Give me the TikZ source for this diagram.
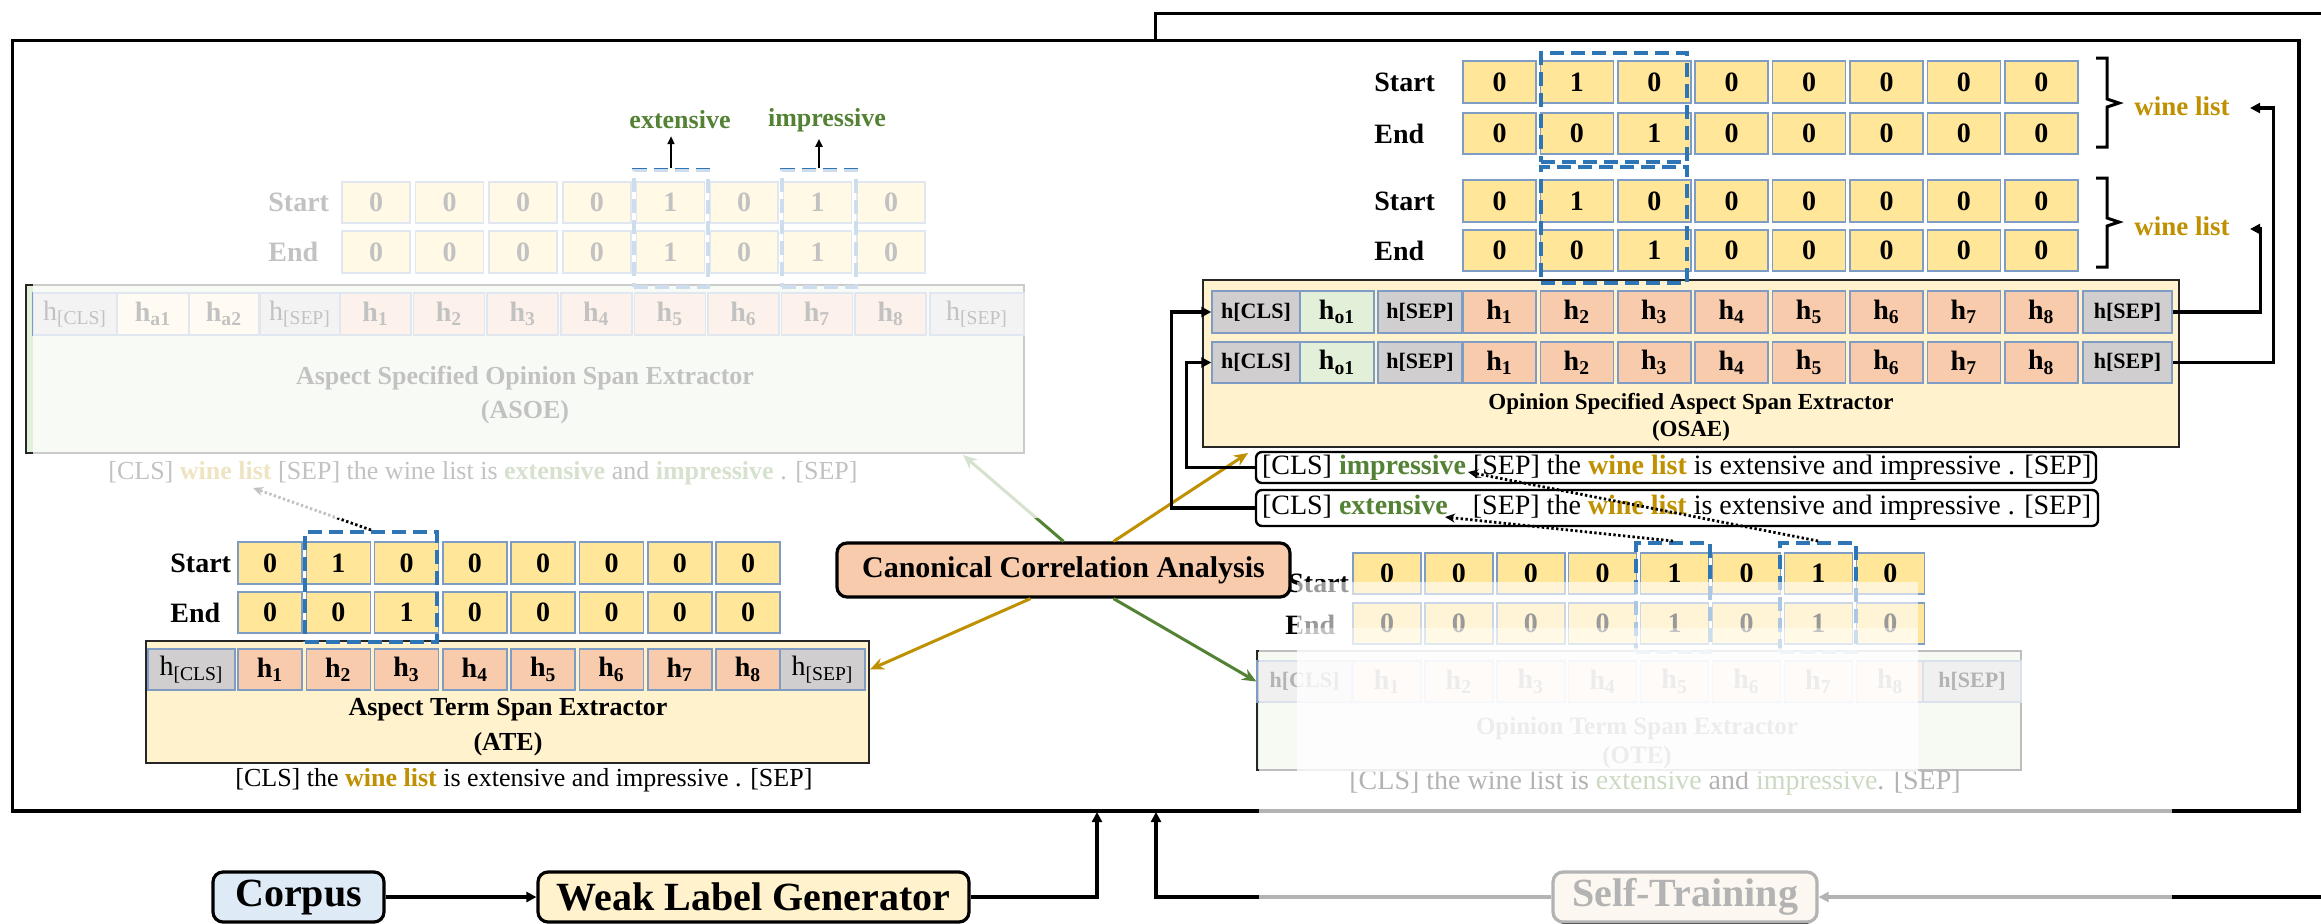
\documentclass[tikz,border=0pt]{standalone}
\usepackage{fontspec}
\setmainfont{Liberation Serif}
\usetikzlibrary{arrows.meta,calc}

\definecolor{valyellow}{HTML}{FFE699}
\definecolor{cellline}{HTML}{7F9CC4}
\definecolor{hsalmon}{HTML}{F8CBAD}
\definecolor{hgray}{HTML}{D0CECE}
\definecolor{paleyellow}{HTML}{FFF2CC}
\definecolor{palegreen}{HTML}{E2F0D9}
\definecolor{paleblue}{HTML}{DEEBF7}
\definecolor{palepeach}{HTML}{FBE5D6}
\definecolor{spanblue}{HTML}{2E75B6}
\definecolor{goldtxt}{HTML}{BF9000}
\definecolor{greentxt}{HTML}{548235}

\newcommand\fsz[1]{\fontsize{#1}{#1}\selectfont}
\newcommand\wlist[1]{\textcolor{goldtxt}{\textbf{#1}}}
\newcommand\grw[1]{\textcolor{greentxt}{\textbf{#1}}}
\newcommand\hsub[1]{\textbf{h\textsubscript{#1}}}
% box from (x0,y0) to (x1,y1), in pixel units
\newcommand\pxbox[7]{\node[#2, minimum width={((#5)-(#3))*0.5pt}, minimum height={((#6)-(#4))*0.5pt}] (#1) at ({((#3)+(#5))/2},{((#4)+(#6))/2}) {#7};}

\tikzset{
  cell/.style={draw=cellline, line width=0.75pt, inner sep=0pt},
  valcell/.style={cell, fill=valyellow, font=\bfseries\fsz{14}},
  hcell/.style={cell, fill=hsalmon, font=\bfseries\fsz{14}},
  sepcell/.style={cell, fill=hgray, font=\fsz{14}},
  tagcell/.style={cell, fill=hgray, font=\bfseries\fsz{11}},
  ocell/.style={cell, fill=palegreen, font=\bfseries\fsz{14}},
  acell/.style={cell, fill=paleyellow, font=\bfseries\fsz{14}},
  module/.style={draw=black!85, line width=1pt, inner sep=0pt},
  rowlabel/.style={font=\bfseries\fsz{14}, anchor=west, inner sep=0pt},
  title/.style={align=center, inner sep=0pt},
  sentence/.style={font=\fsz{13}, anchor=west, inner sep=0pt},
  spanbox/.style={draw=spanblue, line width=2pt, dash pattern=on 7pt off 3.5pt, inner sep=0pt},
  link/.style={line width=1.6pt, -{Triangle[length=5pt,width=5pt]}},
  thinlink/.style={line width=1.1pt, -{Triangle[length=4pt,width=3.5pt]}},
  corr/.style={line width=1.5pt, -{Stealth[length=7pt,width=6pt]}},
  pointer/.style={line width=1.4pt, dash pattern=on 1.2pt off 1.2pt, -{Stealth[length=5pt,width=4.5pt]}},
  stage/.style={draw=black, line width=1.6pt, rounded corners=5pt, inner sep=0pt, font=\bfseries\fsz{20}},
  inputbox/.style={draw=black, line width=1.2pt, rounded corners=3pt, inner sep=0pt, font=\fsz{14}},
  bracket/.style={line width=1.5pt},
}

\begin{document}
\begin{tikzpicture}[x=0.5pt,y=-0.5pt]
\useasboundingbox (0,0) rectangle (2321,923);

% frames
\draw[line width=1.5pt] (1155,60) -- (1155,13) -- (2340,13);
\pxbox{frame}{draw=black, line width=1.75pt, fill=white}{12.6}{40.7}{2299}{811}{}

% ===================== ASOE =====================
\pxbox{asoe}{module, fill=palegreen}{26}{285}{1024}{453}{}
\node[title, font=\bfseries\fontsize{13}{17}\selectfont] (asoeT) at (525,395) {Aspect Specified Opinion Span Extractor\\(ASOE)};
\foreach \v [count=\i] in {0,0,0,0,1,0,1,0}{
  \pxbox{asS\i}{valcell}{342+(\i-1)*73.6}{182}{410+(\i-1)*73.6}{223}{\v}
  \pxbox{asE\i}{valcell}{342+(\i-1)*73.6}{231}{410+(\i-1)*73.6}{273}{\v}
}
\node[rowlabel] (asLS) at (268,202.5) {Start};
\node[rowlabel] (asLE) at (268,252) {End};
\pxbox{asHC}{sepcell}{33}{293}{117}{335}{h\textsubscript{[CLS]}}
\pxbox{asA1}{acell}{117}{293}{189}{335}{\hsub{a1}}
\pxbox{asA2}{acell}{189}{293}{259}{335}{\hsub{a2}}
\pxbox{asHP}{sepcell}{260}{293}{340}{335}{h\textsubscript{[SEP]}}
\foreach \i in {1,...,8}{
  \pxbox{asH\i}{hcell}{340+(\i-1)*73.6}{293}{411+(\i-1)*73.6}{335}{\hsub{\i}}
}
\pxbox{asHS}{sepcell}{930}{293}{1024}{335}{h\textsubscript{[SEP]}}
\pxbox{asD5}{spanbox}{634}{170}{708}{287}{}
\pxbox{asD7}{spanbox}{782}{170}{856}{287}{}
\node[sentence] (asoeIn) at (108,473) {[CLS] \wlist{wine list} [SEP] the wine list is \grw{extensive} and \grw{impressive} . [SEP]};

% ===================== ATE =====================
\pxbox{ate}{module, fill=paleyellow}{146}{641}{869}{763}{}
\node[title, font=\bfseries\fontsize{13}{17.5}\selectfont] (ateT) at (508,727.5) {Aspect Term Span Extractor\\(ATE)};
\foreach \v [count=\i] in {0,1,0,0,0,0,0,0}{
  \pxbox{atS\i}{valcell}{238+(\i-1)*68.3}{542}{302+(\i-1)*68.3}{584}{\v}
}
\foreach \v [count=\i] in {0,0,1,0,0,0,0,0}{
  \pxbox{atE\i}{valcell}{238+(\i-1)*68.3}{592}{302+(\i-1)*68.3}{633}{\v}
}
\node[rowlabel] (atLS) at (170,563) {Start};
\node[rowlabel] (atLE) at (170,613) {End};
\pxbox{atHC}{sepcell}{148}{649}{235}{690}{h\textsubscript{[CLS]}}
\foreach \i in {1,...,8}{
  \pxbox{atH\i}{hcell}{238+(\i-1)*68.3}{649}{302+(\i-1)*68.3}{690}{\hsub{\i}}
}
\pxbox{atHS}{sepcell}{780}{649}{865}{690}{h\textsubscript{[SEP]}}
\pxbox{ateD}{spanbox}{305}{532}{437}{642}{}
\node[sentence] (ateIn) at (235,780) {[CLS] the \wlist{wine list} is extensive and impressive . [SEP]};

% ===================== Canonical Correlation Analysis links =====================
\pxbox{cca}{stage, fill=hsalmon, font=\bfseries\fsz{15}}{837}{543}{1290}{597}{Canonical Correlation Analysis}
\coordinate (asoeHit) at (963,455);
\coordinate (osaeHit) at (1248,453);
\draw[corr, greentxt] (cca.north) -- (asoeHit);
\draw[corr, goldtxt] ($(cca.north)+(50,0)$) -- (osaeHit);
\draw[corr, goldtxt] ($(cca.south)+(-33,0)$) -- (atHS.east -| ate.east);

% pointer from the ATE span to the aspect in the ASOE input
\coordinate (asoeWL) at (253,488);
\draw[pointer] (ateD.north) -- (asoeWL);

% faded ASOE region
\fill[white, opacity=0.76] (33,169) rectangle (1100,518);

\node[font=\bfseries\fsz{13}, text=greentxt] (extLbl) at (680,120) {extensive};
\node[font=\bfseries\fsz{13}, text=greentxt] (impLbl) at (827,120) {impressive};
\draw[thinlink] (asD5.north) -- (asD5.north |- extLbl.south);
\draw[thinlink] (asD7.north) -- (asD7.north |- impLbl.south);

% ===================== OSAE =====================
\pxbox{osae}{module, fill=paleyellow}{1203}{280}{2179}{447}{}
\node[title, font=\bfseries\fontsize{11.5}{13.5}\selectfont] (osaeT) at (1691,417.5) {Opinion Specified Aspect Span Extractor\\(OSAE)};
\foreach \ya/\yb/\nm in {61/103/oS1,180/222/oS2}{
  \foreach \v [count=\i] in {0,1,0,0,0,0,0,0}{
    \pxbox{\nm\i}{valcell}{1463+(\i-1)*77.4}{\ya}{1536+(\i-1)*77.4}{\yb}{\v}
  }
}
\foreach \ya/\yb/\nm in {113/154/oE1,230/271/oE2}{
  \foreach \v [count=\i] in {0,0,1,0,0,0,0,0}{
    \pxbox{\nm\i}{valcell}{1463+(\i-1)*77.4}{\ya}{1536+(\i-1)*77.4}{\yb}{\v}
  }
}
\node[rowlabel] (oLS1) at (1374,82) {Start};
\node[rowlabel] (oLE1) at (1374,133.5) {End};
\node[rowlabel] (oLS2) at (1374,201) {Start};
\node[rowlabel] (oLE2) at (1374,250.5) {End};
\pxbox{oD1}{spanbox}{1541}{53}{1687}{162}{}
\pxbox{oD2}{spanbox}{1541}{167}{1687}{283}{}
\foreach \ya/\yb/\rw in {291/333/1,342/383/2}{
  \pxbox{oR\rw C}{tagcell}{1212}{\ya}{1300}{\yb}{h[CLS]}
  \pxbox{oR\rw O}{ocell}{1300}{\ya}{1374}{\yb}{\hsub{o1}}
  \pxbox{oR\rw P}{tagcell}{1378}{\ya}{1462}{\yb}{h[SEP]}
  \foreach \i in {1,...,8}{
    \pxbox{oR\rw H\i}{hcell}{1463+(\i-1)*77.4}{\ya}{1536+(\i-1)*77.4}{\yb}{\hsub{\i}}
  }
  \pxbox{oR\rw S}{tagcell}{2083}{\ya}{2172}{\yb}{h[SEP]}
}
% brackets and decoded aspects
\draw[bracket] (2096,58) -- (2107,58) -- (2107,99) -- (2119,103) -- (2107,107) -- (2107,147) -- (2096,147);
\draw[bracket] (2096,178) -- (2107,178) -- (2107,218) -- (2119,222) -- (2107,226) -- (2107,267) -- (2096,267);
\node[font=\bfseries\fsz{13.5}, text=goldtxt, inner sep=0pt] (wl1) at (2182,106) {wine list};
\node[font=\bfseries\fsz{13.5}, text=goldtxt, inner sep=0pt] (wl2) at (2182,226) {wine list};
\draw[link] (oR2S.east) -- ++(101,0) |- ($(wl1.east)+(20,2)$);
\draw[link] (oR1S.east) -- ++(88,0) |- ($(wl2.east)+(20,3)$);

% inputs of OSAE
\pxbox{tbImp}{inputbox}{1256}{452}{2096}{483}{\makebox[414pt][l]{[CLS] \grw{impressive} [SEP] the \wlist{wine list} is extensive and impressive . [SEP]}}
\pxbox{tbExt}{inputbox}{1256}{490}{2098}{526}{\makebox[415pt][l]{[CLS] \grw{extensive}\hspace{9pt} [SEP] the \wlist{wine list} is extensive and impressive . [SEP]}}
\draw[link] (tbExt.west) -- ++(-83,0) |- (oR1C.west);
\draw[link] (tbImp.west) -- ++(-68,0) |- (oR2C.west);

% ===================== OTE =====================
\pxbox{ote}{module, fill=palegreen}{1257}{651}{2021}{770}{}
\node[title, font=\bfseries\fontsize{12.5}{14.5}\selectfont] (oteT) at (1637,742.5) {Opinion Term Span Extractor\\(OTE)};
\foreach \v [count=\i] in {0,0,0,0,1,0,1,0}{
  \pxbox{tS\i}{valcell}{1353+(\i-1)*71.9}{553}{1421+(\i-1)*71.9}{594}{\v}
  \pxbox{tE\i}{valcell}{1353+(\i-1)*71.9}{603}{1421+(\i-1)*71.9}{644}{\v}
}
\pxbox{tHC}{tagcell}{1257}{661}{1352}{702}{h[CLS]}
\foreach \i in {1,...,8}{
  \pxbox{tH\i}{hcell}{1353+(\i-1)*71.9}{661}{1421+(\i-1)*71.9}{702}{\hsub{\i}}
}
\pxbox{tHS}{tagcell}{1923}{661}{2021}{702}{h[SEP]}
\pxbox{tD5}{spanbox}{1636}{543}{1710}{652}{}
\pxbox{tD7}{spanbox}{1780}{543}{1856}{652}{}
\node[sentence, font=\fsz{14}] (oteIn) at (1349,783) {[CLS] the wine list is \textcolor{greentxt}{extensive} and \textcolor{greentxt}{impressive}. [SEP]};
\node[rowlabel] (tLS) at (1288,583) {Start};
\node[rowlabel] (tLE) at (1285,625) {End};

\draw[corr, greentxt] ($(cca.south)+(50,0)$) -- (tHC.west);

% pointers from the OTE spans to the opinion prompts
\coordinate (extEnd) at (1445,517);
\coordinate (impEnd) at (1468,472);
\draw[pointer] (tD5.north) -- (extEnd);
\draw[pointer] (tD7.north) -- (impEnd);

% ===================== pipeline =====================
\pxbox{corpus}{stage, fill=paleblue}{213}{872}{384}{922}{Corpus}
\pxbox{wlg}{stage, fill=paleyellow}{538}{872}{969}{922}{Weak Label Generator}
\pxbox{st}{stage, fill=palepeach}{1553}{872}{1817}{922}{Self-Training}
\coordinate (in1) at (1097,812);
\coordinate (in2) at (1156,812);
\coordinate (feed) at (2340,897);
\draw[link] (corpus.east) -- (wlg.west);
\draw[link] (wlg.east) -| (in1);
\draw[link] (st.west) -| (in2);
\draw[link] (feed) -- (st.east);

% faded OTE / self-training region
\fill[white, opacity=0.6] (1297,582) rectangle (1918,772);
\fill[white, opacity=0.4] (1297,628) rectangle (1918,772);
\fill[white, opacity=0.7] (1259,648) rectangle (2172,923);
\end{tikzpicture}
\end{document}
